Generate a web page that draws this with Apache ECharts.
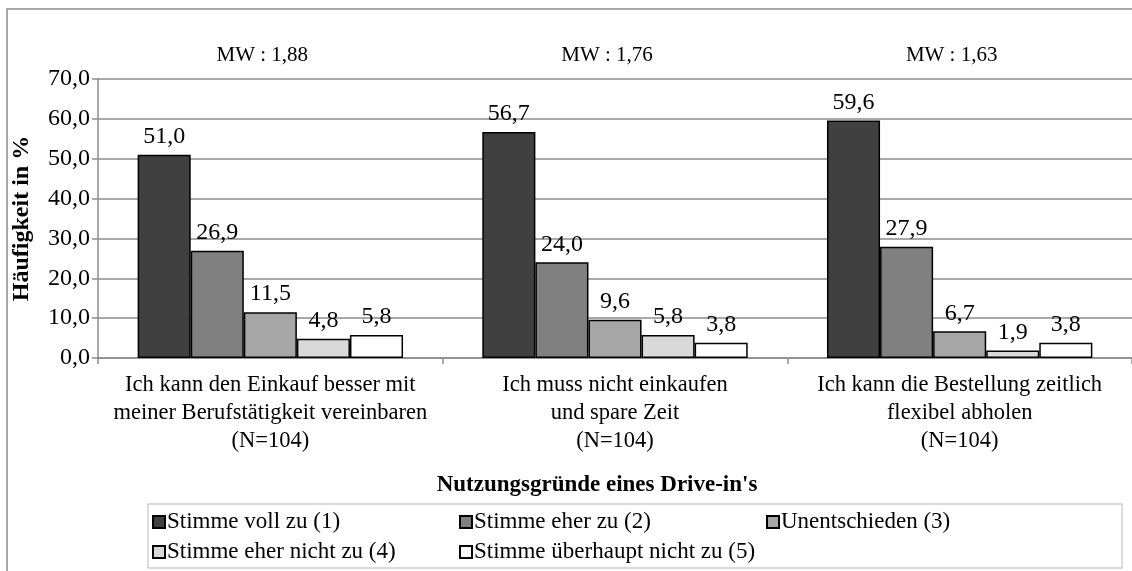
<!DOCTYPE html>
<html>
<head>
<meta charset="utf-8">
<script src="https://cdn.jsdelivr.net/npm/echarts@6/dist/echarts.min.js"></script>
<style>
  html, body { margin: 0; padding: 0; background: #fff; }
  #chart { width: 1132px; height: 571px; }
</style>
</head>
<body>
<div id="chart"></div>
<script>
// Reasons for using a grocery drive-in, answers on a 5-point agreement scale (percent)
const categories = [
  'Ich kann den Einkauf besser mit\nmeiner Berufstätigkeit vereinbaren\n(N=104)',
  'Ich muss nicht einkaufen\nund spare Zeit\n(N=104)',
  'Ich kann die Bestellung zeitlich\nflexibel abholen\n(N=104)'
];
const meanLabels = ['MW : 1,88', 'MW : 1,76', 'MW : 1,63'];

const seriesNames = [
  'Stimme voll zu (1)',
  'Stimme eher zu (2)',
  'Unentschieden (3)',
  'Stimme eher nicht zu (4)',
  'Stimme überhaupt nicht zu (5)'
];
const voll = [51.0, 56.7, 59.6];
const eher = [26.9, 24.0, 27.9];
const unentschieden = [11.5, 9.6, 6.7];
const eherNicht = [4.8, 5.8, 1.9];
const ueberhauptNicht = [5.8, 3.8, 3.8];
const seriesValues = [voll, eher, unentschieden, eherNicht, ueberhauptNicht];

const yTicks = [0, 10, 20, 30, 40, 50, 60, 70];

const fills = ['#404040', '#808080', '#a6a6a6', '#d9d9d9', '#ffffff'];
const FONT = '"Liberation Serif", "Times New Roman", serif';
const fmt = v => v.toFixed(1).replace('.', ',');

const chart = echarts.init(document.getElementById('chart'), null, { renderer: 'canvas' });

chart.setOption({
  backgroundColor: '#ffffff',
  animation: false,
  textStyle: { fontFamily: FONT, color: '#000' },
  title: {
    text: 'Nutzungsgründe eines Drive-in\'s',
    left: 592,
    top: 469,
    textAlign: 'center',
    textStyle: { fontFamily: FONT, fontWeight: 'bold', fontSize: 23, color: '#000' }
  },
  grid: { left: 98, top: 79, width: 1036, height: 279 },
  legend: {
    data: seriesNames,
    left: 152,
    top: 507,
    width: 960,
    orient: 'horizontal',
    itemWidth: 12,
    itemHeight: 12,
    itemGap: 0,
    padding: 0,
    icon: 'rect',
    textStyle: {
      fontFamily: FONT, fontSize: 23, color: '#000',
      width: 292, height: 30, lineHeight: 30, padding: [0, 0, 0, -3]
    }
  },
  xAxis: [
    {
      type: 'category',
      data: categories,
      axisLine: { lineStyle: { color: '#8c8c8c', width: 1.5 } },
      axisTick: { show: true, length: 6, lineStyle: { color: '#8c8c8c', width: 1.5 } },
      axisLabel: {
        fontFamily: FONT, fontSize: 22.5, color: '#000', lineHeight: 28, margin: 13,
        interval: 0
      }
    },
    {
      type: 'category',
      position: 'top',
      data: meanLabels,
      axisLine: { show: false },
      axisTick: { show: false },
      axisLabel: {
        fontFamily: FONT, fontSize: 21, color: '#000', margin: 13, interval: 0,
        padding: [0, 16, 0, 0]
      }
    }
  ],
  yAxis: {
    type: 'value',
    min: yTicks[0],
    max: yTicks[yTicks.length - 1],
    interval: 10,
    name: 'Häufigkeit in %',
    nameLocation: 'middle',
    nameGap: 64,
    nameTextStyle: { fontFamily: FONT, fontWeight: 'bold', fontSize: 24, color: '#000' },
    axisLine: { show: true, lineStyle: { color: '#8c8c8c', width: 1.5 } },
    axisTick: { show: true, length: 6, lineStyle: { color: '#8c8c8c', width: 1.5 } },
    axisLabel: { fontFamily: FONT, fontSize: 24, color: '#000', margin: 8, formatter: fmt },
    splitLine: { show: true, lineStyle: { color: '#8c8c8c', width: 1.5 } }
  },
  series: seriesNames.map((name, i) => ({
    name,
    type: 'bar',
    xAxisIndex: 0,
    data: seriesValues[i],
    barGap: '0%',
    barCategoryGap: '23%',
    itemStyle: { color: fills[i], borderColor: '#000', borderWidth: 1.5 },
    label: {
      show: true,
      position: 'top',
      distance: 6,
      fontFamily: FONT,
      fontSize: 24,
      color: '#000',
      formatter: p => fmt(p.value)
    }
  })),
  graphic: [
    {
      type: 'rect',
      silent: true,
      z: -10,
      shape: { x: 7, y: 9, width: 1200, height: 700 },
      style: { fill: null, stroke: '#8c8c8c', lineWidth: 1.5 }
    },
    {
      type: 'rect',
      silent: true,
      z: -10,
      shape: { x: 148, y: 504, width: 974, height: 64 },
      style: { fill: null, stroke: '#d0d0d0', lineWidth: 1.5 }
    }
  ]
});
</script>
</body>
</html>
